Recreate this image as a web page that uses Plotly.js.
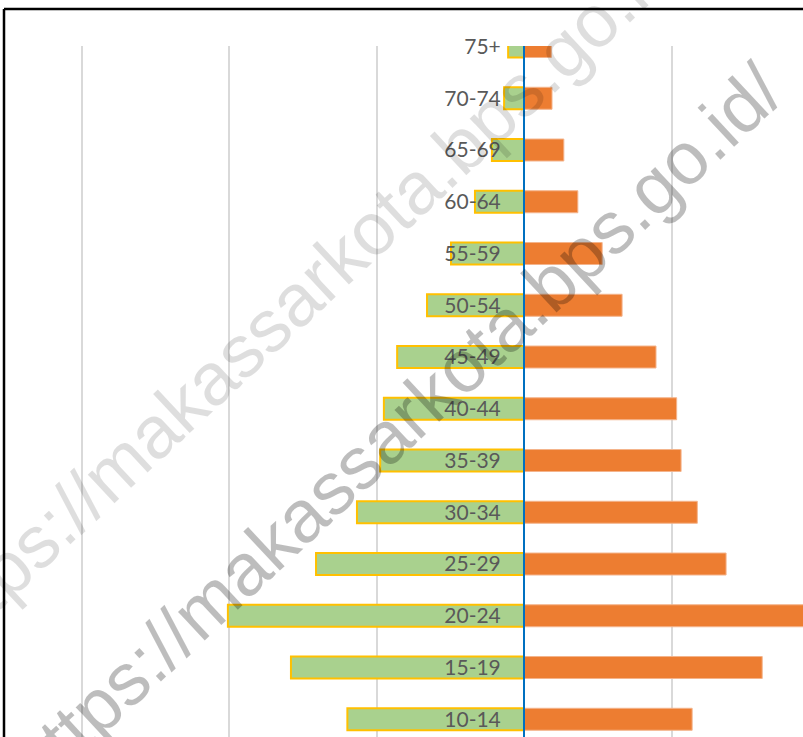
<!DOCTYPE html>
<html>
<head>
<meta charset="utf-8">
<script src="https://cdn.plot.ly/plotly-3.0.1.min.js"></script>
<style>
  html, body { margin: 0; padding: 0; background: #ffffff; }
  #chart { width: 803px; height: 737px; }
</style>
</head>
<body>
<div id="chart"></div>
<script>
// ---- data ----
const ageGroups = ['10-14','15-19','20-24','25-29','30-34','35-39','40-44','45-49','50-54','55-59','60-64','65-69','70-74','75+'];
const leftSeriesName = 'Laki-laki';
const rightSeriesName = 'Perempuan';
const leftValues  = [23950, 31600, 40150, 28200, 22650, 19500, 19000, 17200, 13150, 9900, 6650, 4350, 2700, 2150];
const rightValues = [22800, 32300, 41500, 27400, 23500, 21300, 20700, 17900, 13300, 10600, 7300, 5400, 3800, 3700];
const watermarkText = 'https://makassarkota.bps.go.id/';

// ---- layout constants ----
const W = 803, H = 737;
const TOP = 46;
const plotH = H - TOP;
const centerPx = 524;
const pxPerGrid = 147.5;
const gridStep = 20000;
const xMin = -centerPx / pxPerGrid * gridStep;
const xMax = (W - centerPx) / pxPerGrid * gridStep;
const rowPx = 51.75;
const yTop = 13.01;
const yBottom = yTop - plotH / rowPx;

function py(pixelY) { return 1 - (pixelY - TOP) / plotH; }
function px(pixelX) { return pixelX / W; }

const traces = [
  {
    type: 'bar',
    orientation: 'h',
    name: leftSeriesName,
    y: ageGroups,
    x: leftValues.map(v => -v),
    width: 0.425,
    marker: { color: '#A9D18E', line: { color: '#FFC000', width: 2 } },
    hoverinfo: 'skip'
  },
  {
    type: 'bar',
    orientation: 'h',
    name: rightSeriesName,
    y: ageGroups,
    x: rightValues,
    width: 0.425,
    marker: { color: '#ED7D31', line: { color: '#F4B48C', width: 1 } },
    hoverinfo: 'skip'
  }
];

const layout = {
  width: W,
  height: H,
  margin: { l: 0, r: 0, t: TOP, b: 0, pad: 0 },
  paper_bgcolor: '#ffffff',
  plot_bgcolor: '#ffffff',
  showlegend: false,
  barmode: 'relative',
  xaxis: {
    range: [xMin, xMax],
    tick0: 0,
    dtick: gridStep,
    showgrid: true,
    gridcolor: '#d9d9d9',
    gridwidth: 2,
    zeroline: false,
    showline: false,
    showticklabels: false,
    ticks: '',
    fixedrange: true
  },
  yaxis: {
    type: 'category',
    categoryorder: 'array',
    categoryarray: ageGroups,
    range: [yBottom, yTop],
    anchor: 'free',
    position: centerPx / W,
    showline: true,
    linecolor: '#0070C0',
    linewidth: 2,
    showgrid: false,
    zeroline: false,
    ticks: '',
    ticklabelstandoff: 18,
    tickfont: { family: 'Lato, "Open Sans", sans-serif', size: 21, color: '#595959' },
    layer: 'above traces',
    fixedrange: true
  },
  shapes: [
    { type: 'line', xref: 'paper', yref: 'paper', x0: px(4), x1: 1.02, y0: py(9), y1: py(9),
      line: { color: '#000000', width: 2.5 } },
    { type: 'line', xref: 'paper', yref: 'paper', x0: px(4), x1: px(4), y0: -0.05, y1: py(9),
      line: { color: '#000000', width: 2.5 } }
  ],
  annotations: [
    { text: watermarkText, xref: 'paper', yref: 'paper', x: px(305), y: py(290),
      xanchor: 'center', yanchor: 'middle', textangle: -43, showarrow: false,
      font: { family: '"Liberation Sans", Arial, sans-serif', size: 74, color: 'rgba(0,0,0,0.13)' } },
    { text: watermarkText, xref: 'paper', yref: 'paper', x: px(396), y: py(428),
      xanchor: 'center', yanchor: 'middle', textangle: -43, showarrow: false,
      font: { family: '"Liberation Sans", Arial, sans-serif', size: 74, color: 'rgba(0,0,0,0.26)' } }
  ]
};

Plotly.newPlot('chart', traces, layout, { displayModeBar: false, staticPlot: true });
</script>
</body>
</html>
